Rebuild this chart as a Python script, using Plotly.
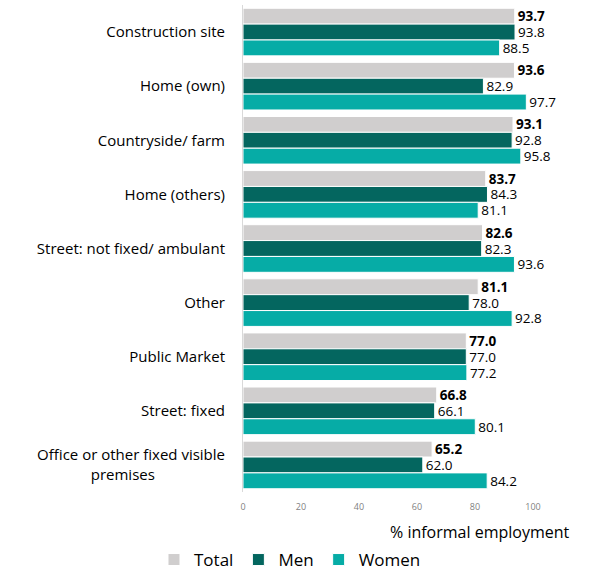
import plotly.graph_objects as go

categories = ["Construction site", "Home (own)", "Countryside/ farm", "Home (others)",
              "Street: not fixed/ ambulant", "Other", "Public Market", "Street: fixed",
              "Office or other fixed visible<br>premises\u00a0\u00a0\u00a0\u00a0\u00a0\u00a0\u00a0\u00a0\u00a0\u00a0\u00a0\u00a0\u00a0\u00a0\u00a0\u00a0\u00a0\u00a0"]
total = [93.7, 93.6, 93.1, 83.7, 82.6, 81.1, 77.0, 66.8, 65.2]
men = [93.8, 82.9, 92.8, 84.3, 82.3, 78.0, 77.0, 66.1, 62.0]
women = [88.5, 97.7, 95.8, 81.1, 93.6, 92.8, 77.2, 80.1, 84.2]
x_ticks = [0, 20, 40, 60, 80, 100]

font_family = "Open Sans, Liberation Sans, sans-serif"

fig = go.Figure()
series = [("Total", total, "#D0CECE", "<b>%{x:.1f}</b>"),
          ("Men", men, "#04665F", "%{x:.1f}"),
          ("Women", women, "#06ACA6", "%{x:.1f}")]
for name, vals, col, tmpl in series:
    fig.add_trace(go.Bar(
        y=categories, x=vals, name=name, orientation="h",
        marker=dict(color=col, line=dict(color="white", width=1)),
        texttemplate=tmpl, textposition="outside", cliponaxis=False,
        constraintext="none",
        textfont=dict(size=13.5, color="black", family=font_family),
    ))

fig.update_layout(
    width=590, height=574,
    margin=dict(l=243, r=57, t=5, b=82),
    barmode="group", bargap=0.12, bargroupgap=0,
    plot_bgcolor="white", paper_bgcolor="white",
    font=dict(family=font_family, color="black"),
    legend=dict(orientation="h", xref="container", yref="container",
                x=0.4915, xanchor="center", y=0.0244, yanchor="middle",
                font=dict(size=17), itemwidth=30, traceorder="normal"),
)
fig.update_xaxes(range=[0, 100], tickvals=x_ticks, showgrid=False, zeroline=False,
                 showline=False, tickfont=dict(size=9, color="#7f7f7f"),
                 ticklabelstandoff=8, automargin=False)
fig.update_yaxes(autorange="reversed", showline=True, linecolor="#d9d9d9", linewidth=1,
                 tickfont=dict(size=15, color="black"), ticklabelstandoff=14,
                 showgrid=False, automargin=False)
fig.add_annotation(text="% informal employment", xref="paper", yref="paper",
                   x=1.134, y=-0.082, xanchor="right", yanchor="middle", showarrow=False,
                   font=dict(size=16, color="black"))

fig.write_html("out.html", config={"displayModeBar": False},
               post_script="document.body.style.margin='0';")
